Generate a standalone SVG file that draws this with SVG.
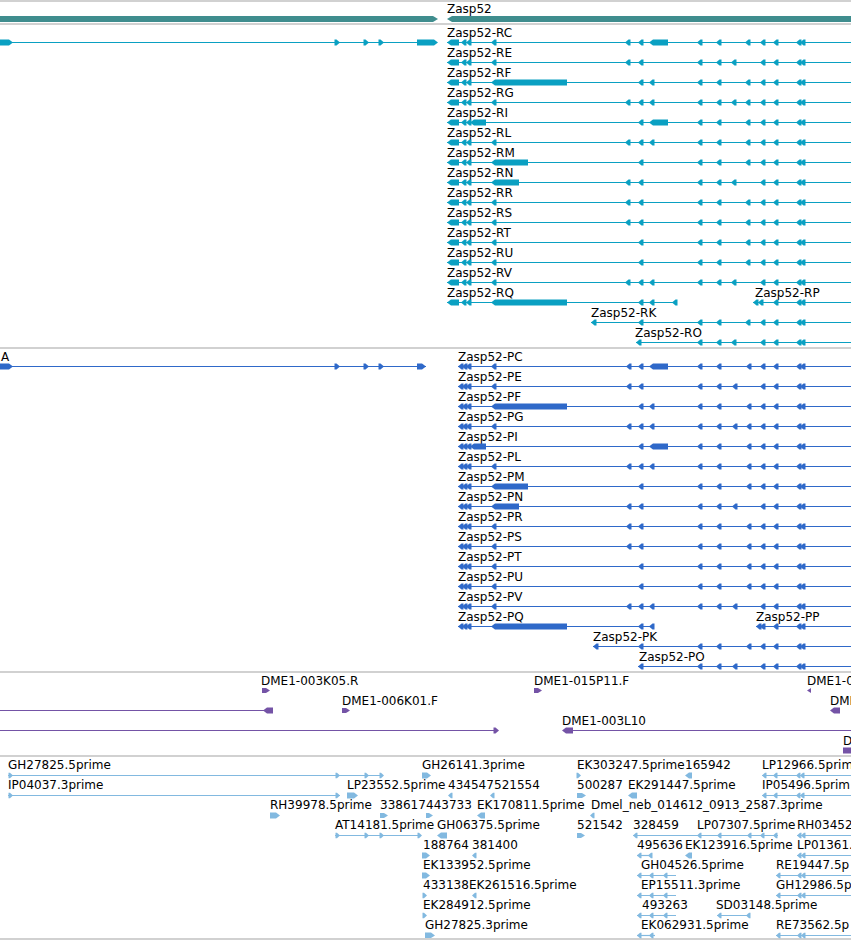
<svg xmlns="http://www.w3.org/2000/svg" xmlns:xlink="http://www.w3.org/1999/xlink" width="851" height="940" viewBox="0 0 851 940">
<style>
.t{font-family:"DejaVu Sans","Liberation Sans",sans-serif;font-size:12px;fill:#000}
.sep{stroke:#c2c2c2;stroke-width:1.5}
.g0{fill:#3f8d8e}
.c1{fill:#0aa0c2}.c1 line{stroke:#0aa0c2;stroke-width:1}
.c2{fill:#2f69c9}.c2 line{stroke:#2f69c9;stroke-width:1}
.c3{fill:#7453a6}.c3 line{stroke:#7453a6;stroke-width:1.2}
.c4{fill:#82b9e0}.c4 line{stroke:#82b9e0;stroke-width:1.2}
</style>
<defs>
<polygon id="a" points="0,0 3.5,-3 5.5,-3 5.5,3 3.5,3"/>
<polygon id="r" points="0,0 -3.5,-3 -5.5,-3 -5.5,3 -3.5,3"/>
<polygon id="sa" points="0,0 3,-2.7 4.5,-2.7 4.5,2.7 3,2.7"/>
<polygon id="sr" points="0,0 -3,-2.7 -4.5,-2.7 -4.5,2.7 -3,2.7"/>
</defs>
<g id="separators">
<line class="sep" x1="0" y1="1" x2="851" y2="1"/>
<line class="sep" x1="0" y1="24" x2="851" y2="24"/>
<line class="sep" x1="0" y1="348" x2="851" y2="348"/>
<line class="sep" x1="0" y1="672" x2="851" y2="672"/>
<line class="sep" x1="0" y1="756" x2="851" y2="756"/>
<line class="sep" x1="0" y1="939" x2="851" y2="939"/>
</g>
<g id="connectors"></g>
<g id="gene-left" class="g0"><polygon points="0,16 433,16 438,19 433,22 0,22"/></g>
<g id="gene-Zasp52" class="g0"><text class="t" x="447" y="13">Zasp52</text><polygon points="447,19 452,16 851,16 851,22 452,22"/></g>

<g id="tx-left" class="c1">
<line x1="0" y1="42.5" x2="437" y2="42.5"/>
<polygon points="0,39.5 9,39.5 13,42.5 9,45.5 0,45.5"/>
<use href="#r" x="340" y="42.5"/><use href="#r" x="369" y="42.5"/><use href="#r" x="384" y="42.5"/>
<polygon points="417,39.5 434,39.5 438,42.5 434,45.5 417,45.5"/>
</g>

<g id="Zasp52-RC" class="c1"><text class="t" x="447" y="37">Zasp52-RC</text>
<line x1="447" y1="42.5" x2="851" y2="42.5"/>
<polygon points="447,42.5 451,39.5 459,39.5 459,45.5 451,45.5"/>
<use href="#a" x="461" y="42.5"/><use href="#a" x="466" y="42.5"/><use href="#a" x="491" y="42.5"/><use href="#a" x="625" y="42.5"/><use href="#a" x="638" y="42.5"/>
<polygon points="649,42.5 653,39.5 668,39.5 668,45.5 653,45.5"/>
<use href="#a" x="697" y="42.5"/><use href="#a" x="716" y="42.5"/><use href="#a" x="745" y="42.5"/><use href="#a" x="760" y="42.5"/><use href="#a" x="773" y="42.5"/><use href="#a" x="796" y="42.5"/><use href="#a" x="800" y="42.5"/>
</g>
<g id="Zasp52-RE" class="c1"><text class="t" x="447" y="57">Zasp52-RE</text>
<line x1="447" y1="62.5" x2="851" y2="62.5"/>
<polygon points="447,62.5 451,59.5 459,59.5 459,65.5 451,65.5"/>
<use href="#a" x="461" y="62.5"/><use href="#a" x="466" y="62.5"/><use href="#a" x="491" y="62.5"/><use href="#a" x="625" y="62.5"/><use href="#a" x="638" y="62.5"/>
<use href="#a" x="697" y="62.5"/><use href="#a" x="716" y="62.5"/><use href="#a" x="731" y="62.5"/><use href="#a" x="760" y="62.5"/><use href="#a" x="773" y="62.5"/><use href="#a" x="796" y="62.5"/><use href="#a" x="800" y="62.5"/>
</g>
<g id="Zasp52-RF" class="c1"><text class="t" x="447" y="77">Zasp52-RF</text>
<line x1="447" y1="82.5" x2="851" y2="82.5"/>
<polygon points="447,82.5 451,79.5 459,79.5 459,85.5 451,85.5"/>
<use href="#a" x="461" y="82.5"/><use href="#a" x="466" y="82.5"/>
<polygon points="491,82.5 495,79.5 567,79.5 567,85.5 495,85.5"/>
<use href="#a" x="638" y="82.5"/><use href="#a" x="649" y="82.5"/>
<use href="#a" x="697" y="82.5"/><use href="#a" x="716" y="82.5"/><use href="#a" x="745" y="82.5"/><use href="#a" x="760" y="82.5"/><use href="#a" x="773" y="82.5"/><use href="#a" x="796" y="82.5"/><use href="#a" x="800" y="82.5"/>
</g>
<g id="Zasp52-RG" class="c1"><text class="t" x="447" y="97">Zasp52-RG</text>
<line x1="447" y1="102.5" x2="851" y2="102.5"/>
<polygon points="447,102.5 451,99.5 459,99.5 459,105.5 451,105.5"/>
<use href="#a" x="461" y="102.5"/><use href="#a" x="466" y="102.5"/><use href="#a" x="491" y="102.5"/><use href="#a" x="625" y="102.5"/><use href="#a" x="638" y="102.5"/><use href="#a" x="649" y="102.5"/>
<use href="#a" x="697" y="102.5"/><use href="#a" x="716" y="102.5"/><use href="#a" x="731" y="102.5"/><use href="#a" x="745" y="102.5"/><use href="#a" x="760" y="102.5"/><use href="#a" x="773" y="102.5"/><use href="#a" x="796" y="102.5"/><use href="#a" x="800" y="102.5"/>
</g>
<g id="Zasp52-RI" class="c1"><text class="t" x="447" y="117">Zasp52-RI</text>
<line x1="447" y1="122.5" x2="851" y2="122.5"/>
<polygon points="447,122.5 451,119.5 459,119.5 459,125.5 451,125.5"/>
<use href="#a" x="461" y="122.5"/><use href="#a" x="466" y="122.5"/>
<polygon points="470,122.5 474,119.5 486,119.5 486,125.5 474,125.5"/>
<use href="#a" x="638" y="122.5"/>
<polygon points="649,122.5 653,119.5 668,119.5 668,125.5 653,125.5"/>
<use href="#a" x="697" y="122.5"/><use href="#a" x="716" y="122.5"/><use href="#a" x="745" y="122.5"/><use href="#a" x="760" y="122.5"/><use href="#a" x="773" y="122.5"/><use href="#a" x="796" y="122.5"/><use href="#a" x="800" y="122.5"/>
</g>
<g id="Zasp52-RL" class="c1"><text class="t" x="447" y="137">Zasp52-RL</text>
<line x1="447" y1="142.5" x2="851" y2="142.5"/>
<polygon points="447,142.5 451,139.5 459,139.5 459,145.5 451,145.5"/>
<use href="#a" x="461" y="142.5"/><use href="#a" x="466" y="142.5"/><use href="#a" x="491" y="142.5"/><use href="#a" x="625" y="142.5"/><use href="#a" x="638" y="142.5"/><use href="#a" x="649" y="142.5"/>
<use href="#a" x="697" y="142.5"/><use href="#a" x="716" y="142.5"/><use href="#a" x="745" y="142.5"/><use href="#a" x="760" y="142.5"/><use href="#a" x="773" y="142.5"/><use href="#a" x="796" y="142.5"/><use href="#a" x="800" y="142.5"/>
</g>
<g id="Zasp52-RM" class="c1"><text class="t" x="447" y="157">Zasp52-RM</text>
<line x1="447" y1="162.5" x2="851" y2="162.5"/>
<polygon points="447,162.5 451,159.5 459,159.5 459,165.5 451,165.5"/>
<use href="#a" x="461" y="162.5"/><use href="#a" x="466" y="162.5"/>
<polygon points="491,162.5 495,159.5 528,159.5 528,165.5 495,165.5"/>
<use href="#a" x="638" y="162.5"/>
<use href="#a" x="697" y="162.5"/><use href="#a" x="716" y="162.5"/><use href="#a" x="745" y="162.5"/><use href="#a" x="760" y="162.5"/><use href="#a" x="773" y="162.5"/><use href="#a" x="796" y="162.5"/><use href="#a" x="800" y="162.5"/>
</g>
<g id="Zasp52-RN" class="c1"><text class="t" x="447" y="177">Zasp52-RN</text>
<line x1="447" y1="182.5" x2="851" y2="182.5"/>
<polygon points="447,182.5 451,179.5 459,179.5 459,185.5 451,185.5"/>
<use href="#a" x="461" y="182.5"/><use href="#a" x="466" y="182.5"/>
<polygon points="491,182.5 495,179.5 519,179.5 519,185.5 495,185.5"/>
<use href="#a" x="625" y="182.5"/><use href="#a" x="638" y="182.5"/>
<use href="#a" x="697" y="182.5"/><use href="#a" x="716" y="182.5"/><use href="#a" x="731" y="182.5"/><use href="#a" x="760" y="182.5"/><use href="#a" x="773" y="182.5"/><use href="#a" x="796" y="182.5"/><use href="#a" x="800" y="182.5"/>
</g>
<g id="Zasp52-RR" class="c1"><text class="t" x="447" y="197">Zasp52-RR</text>
<line x1="447" y1="202.5" x2="851" y2="202.5"/>
<polygon points="447,202.5 451,199.5 459,199.5 459,205.5 451,205.5"/>
<use href="#a" x="461" y="202.5"/><use href="#a" x="466" y="202.5"/><use href="#a" x="491" y="202.5"/><use href="#a" x="625" y="202.5"/><use href="#a" x="638" y="202.5"/>
<use href="#a" x="697" y="202.5"/><use href="#a" x="716" y="202.5"/><use href="#a" x="745" y="202.5"/><use href="#a" x="760" y="202.5"/><use href="#a" x="773" y="202.5"/><use href="#a" x="796" y="202.5"/><use href="#a" x="800" y="202.5"/>
</g>
<g id="Zasp52-RS" class="c1"><text class="t" x="447" y="217">Zasp52-RS</text>
<line x1="447" y1="222.5" x2="851" y2="222.5"/>
<polygon points="447,222.5 451,219.5 459,219.5 459,225.5 451,225.5"/>
<use href="#a" x="461" y="222.5"/><use href="#a" x="466" y="222.5"/><use href="#a" x="491" y="222.5"/><use href="#a" x="625" y="222.5"/><use href="#a" x="638" y="222.5"/>
<use href="#a" x="697" y="222.5"/><use href="#a" x="716" y="222.5"/><use href="#a" x="745" y="222.5"/><use href="#a" x="760" y="222.5"/><use href="#a" x="773" y="222.5"/><use href="#a" x="796" y="222.5"/><use href="#a" x="800" y="222.5"/>
</g>
<g id="Zasp52-RT" class="c1"><text class="t" x="447" y="237">Zasp52-RT</text>
<line x1="447" y1="242.5" x2="851" y2="242.5"/>
<polygon points="447,242.5 451,239.5 459,239.5 459,245.5 451,245.5"/>
<use href="#a" x="461" y="242.5"/><use href="#a" x="466" y="242.5"/><use href="#a" x="491" y="242.5"/><use href="#a" x="638" y="242.5"/>
<use href="#a" x="697" y="242.5"/><use href="#a" x="716" y="242.5"/><use href="#a" x="745" y="242.5"/><use href="#a" x="760" y="242.5"/><use href="#a" x="773" y="242.5"/><use href="#a" x="796" y="242.5"/><use href="#a" x="800" y="242.5"/>
</g>
<g id="Zasp52-RU" class="c1"><text class="t" x="447" y="257">Zasp52-RU</text>
<line x1="447" y1="262.5" x2="851" y2="262.5"/>
<polygon points="447,262.5 451,259.5 459,259.5 459,265.5 451,265.5"/>
<use href="#a" x="461" y="262.5"/><use href="#a" x="466" y="262.5"/><use href="#a" x="491" y="262.5"/><use href="#a" x="638" y="262.5"/>
<use href="#a" x="697" y="262.5"/><use href="#a" x="716" y="262.5"/><use href="#a" x="745" y="262.5"/><use href="#a" x="760" y="262.5"/><use href="#a" x="773" y="262.5"/><use href="#a" x="796" y="262.5"/><use href="#a" x="800" y="262.5"/>
</g>
<g id="Zasp52-RV" class="c1"><text class="t" x="447" y="277">Zasp52-RV</text>
<line x1="447" y1="282.5" x2="851" y2="282.5"/>
<polygon points="447,282.5 451,279.5 459,279.5 459,285.5 451,285.5"/>
<use href="#a" x="461" y="282.5"/><use href="#a" x="466" y="282.5"/><use href="#a" x="491" y="282.5"/><use href="#a" x="625" y="282.5"/><use href="#a" x="638" y="282.5"/><use href="#a" x="649" y="282.5"/>
<use href="#a" x="697" y="282.5"/><use href="#a" x="716" y="282.5"/><use href="#a" x="731" y="282.5"/><use href="#a" x="760" y="282.5"/><use href="#a" x="773" y="282.5"/><use href="#a" x="796" y="282.5"/><use href="#a" x="800" y="282.5"/>
</g>
<g id="Zasp52-RQ" class="c1"><text class="t" x="447" y="297">Zasp52-RQ</text>
<line x1="447" y1="302.5" x2="677" y2="302.5"/>
<polygon points="447,302.5 451,299.5 459,299.5 459,305.5 451,305.5"/>
<use href="#a" x="461" y="302.5"/><use href="#a" x="466" y="302.5"/>
<polygon points="491,302.5 495,299.5 567,299.5 567,305.5 495,305.5"/>
<use href="#a" x="638" y="302.5"/><use href="#a" x="649" y="302.5"/><use href="#a" x="672" y="302.5"/>
</g>
<g id="Zasp52-RP" class="c1"><text class="t" x="755" y="297">Zasp52-RP</text>
<line x1="753" y1="302.5" x2="851" y2="302.5"/>
<use href="#a" x="753" y="302.5"/><use href="#a" x="758" y="302.5"/><use href="#a" x="773" y="302.5"/><use href="#a" x="796" y="302.5"/><use href="#a" x="800" y="302.5"/>
</g>
<g id="Zasp52-RK" class="c1"><text class="t" x="591" y="317">Zasp52-RK</text>
<line x1="591" y1="322.5" x2="851" y2="322.5"/>
<use href="#a" x="591" y="322.5"/><use href="#a" x="638" y="322.5"/><use href="#a" x="697" y="322.5"/><use href="#a" x="716" y="322.5"/><use href="#a" x="745" y="322.5"/><use href="#a" x="760" y="322.5"/><use href="#a" x="773" y="322.5"/><use href="#a" x="796" y="322.5"/><use href="#a" x="800" y="322.5"/>
</g>
<g id="Zasp52-RO" class="c1"><text class="t" x="635" y="337">Zasp52-RO</text>
<line x1="636" y1="342.5" x2="851" y2="342.5"/>
<use href="#a" x="636" y="342.5"/><use href="#a" x="697" y="342.5"/><use href="#a" x="716" y="342.5"/><use href="#a" x="731" y="342.5"/><use href="#a" x="760" y="342.5"/><use href="#a" x="773" y="342.5"/><use href="#a" x="796" y="342.5"/><use href="#a" x="800" y="342.5"/>
</g>

<g id="pp-left" class="c2"><text class="t" x="1" y="361">A</text>
<line x1="0" y1="366.5" x2="426" y2="366.5"/>
<polygon points="0,363.5 9,363.5 13,366.5 9,369.5 0,369.5"/>
<use href="#r" x="340" y="366.5"/><use href="#r" x="369" y="366.5"/><use href="#r" x="384" y="366.5"/>
<polygon points="417,363.5 422,363.5 426,366.5 422,369.5 417,369.5"/>
</g>
<g id="Zasp52-PC" class="c2"><text class="t" x="458" y="361">Zasp52-PC</text>
<line x1="458" y1="366.5" x2="851" y2="366.5"/>
<use href="#a" x="458" y="366.5"/><use href="#a" x="462" y="366.5"/><use href="#a" x="466" y="366.5"/><use href="#a" x="491" y="366.5"/><use href="#a" x="626" y="366.5"/><use href="#a" x="638" y="366.5"/>
<polygon points="649,366.5 653,363.5 668,363.5 668,369.5 653,369.5"/>
<use href="#a" x="697" y="366.5"/><use href="#a" x="716" y="366.5"/><use href="#a" x="746" y="366.5"/><use href="#a" x="760" y="366.5"/><use href="#a" x="773" y="366.5"/><use href="#a" x="796" y="366.5"/><use href="#a" x="800" y="366.5"/>
</g>
<g id="Zasp52-PE" class="c2"><text class="t" x="458" y="381">Zasp52-PE</text>
<line x1="458" y1="386.5" x2="851" y2="386.5"/>
<use href="#a" x="458" y="386.5"/><use href="#a" x="462" y="386.5"/><use href="#a" x="466" y="386.5"/><use href="#a" x="491" y="386.5"/><use href="#a" x="626" y="386.5"/><use href="#a" x="638" y="386.5"/>
<use href="#a" x="697" y="386.5"/><use href="#a" x="716" y="386.5"/><use href="#a" x="732" y="386.5"/><use href="#a" x="760" y="386.5"/><use href="#a" x="773" y="386.5"/><use href="#a" x="796" y="386.5"/><use href="#a" x="800" y="386.5"/>
</g>
<g id="Zasp52-PF" class="c2"><text class="t" x="458" y="401">Zasp52-PF</text>
<line x1="458" y1="406.5" x2="851" y2="406.5"/>
<use href="#a" x="458" y="406.5"/><use href="#a" x="462" y="406.5"/><use href="#a" x="466" y="406.5"/>
<polygon points="491,406.5 495,403.5 567,403.5 567,409.5 495,409.5"/>
<use href="#a" x="638" y="406.5"/><use href="#a" x="649" y="406.5"/>
<use href="#a" x="697" y="406.5"/><use href="#a" x="716" y="406.5"/><use href="#a" x="746" y="406.5"/><use href="#a" x="760" y="406.5"/><use href="#a" x="773" y="406.5"/><use href="#a" x="796" y="406.5"/><use href="#a" x="800" y="406.5"/>
</g>
<g id="Zasp52-PG" class="c2"><text class="t" x="458" y="421">Zasp52-PG</text>
<line x1="458" y1="426.5" x2="851" y2="426.5"/>
<use href="#a" x="458" y="426.5"/><use href="#a" x="462" y="426.5"/><use href="#a" x="466" y="426.5"/><use href="#a" x="491" y="426.5"/><use href="#a" x="626" y="426.5"/><use href="#a" x="638" y="426.5"/><use href="#a" x="649" y="426.5"/>
<use href="#a" x="697" y="426.5"/><use href="#a" x="716" y="426.5"/><use href="#a" x="732" y="426.5"/><use href="#a" x="746" y="426.5"/><use href="#a" x="760" y="426.5"/><use href="#a" x="773" y="426.5"/><use href="#a" x="796" y="426.5"/><use href="#a" x="800" y="426.5"/>
</g>
<g id="Zasp52-PI" class="c2"><text class="t" x="458" y="441">Zasp52-PI</text>
<line x1="458" y1="446.5" x2="851" y2="446.5"/>
<use href="#a" x="458" y="446.5"/><use href="#a" x="462" y="446.5"/><use href="#a" x="466" y="446.5"/>
<polygon points="470,446.5 474,443.5 486,443.5 486,449.5 474,449.5"/>
<use href="#a" x="638" y="446.5"/>
<polygon points="649,446.5 653,443.5 668,443.5 668,449.5 653,449.5"/>
<use href="#a" x="697" y="446.5"/><use href="#a" x="716" y="446.5"/><use href="#a" x="746" y="446.5"/><use href="#a" x="760" y="446.5"/><use href="#a" x="773" y="446.5"/><use href="#a" x="796" y="446.5"/><use href="#a" x="800" y="446.5"/>
</g>
<g id="Zasp52-PL" class="c2"><text class="t" x="458" y="461">Zasp52-PL</text>
<line x1="458" y1="466.5" x2="851" y2="466.5"/>
<use href="#a" x="458" y="466.5"/><use href="#a" x="462" y="466.5"/><use href="#a" x="466" y="466.5"/><use href="#a" x="491" y="466.5"/><use href="#a" x="626" y="466.5"/><use href="#a" x="638" y="466.5"/><use href="#a" x="649" y="466.5"/>
<use href="#a" x="697" y="466.5"/><use href="#a" x="716" y="466.5"/><use href="#a" x="746" y="466.5"/><use href="#a" x="760" y="466.5"/><use href="#a" x="773" y="466.5"/><use href="#a" x="796" y="466.5"/><use href="#a" x="800" y="466.5"/>
</g>
<g id="Zasp52-PM" class="c2"><text class="t" x="458" y="481">Zasp52-PM</text>
<line x1="458" y1="486.5" x2="851" y2="486.5"/>
<use href="#a" x="458" y="486.5"/><use href="#a" x="462" y="486.5"/><use href="#a" x="466" y="486.5"/>
<polygon points="491,486.5 495,483.5 528,483.5 528,489.5 495,489.5"/>
<use href="#a" x="638" y="486.5"/>
<use href="#a" x="697" y="486.5"/><use href="#a" x="716" y="486.5"/><use href="#a" x="746" y="486.5"/><use href="#a" x="760" y="486.5"/><use href="#a" x="773" y="486.5"/><use href="#a" x="796" y="486.5"/><use href="#a" x="800" y="486.5"/>
</g>
<g id="Zasp52-PN" class="c2"><text class="t" x="458" y="501">Zasp52-PN</text>
<line x1="458" y1="506.5" x2="851" y2="506.5"/>
<use href="#a" x="458" y="506.5"/><use href="#a" x="462" y="506.5"/><use href="#a" x="466" y="506.5"/>
<polygon points="491,506.5 495,503.5 519,503.5 519,509.5 495,509.5"/>
<use href="#a" x="626" y="506.5"/><use href="#a" x="638" y="506.5"/>
<use href="#a" x="697" y="506.5"/><use href="#a" x="716" y="506.5"/><use href="#a" x="732" y="506.5"/><use href="#a" x="760" y="506.5"/><use href="#a" x="773" y="506.5"/><use href="#a" x="796" y="506.5"/><use href="#a" x="800" y="506.5"/>
</g>
<g id="Zasp52-PR" class="c2"><text class="t" x="458" y="521">Zasp52-PR</text>
<line x1="458" y1="526.5" x2="851" y2="526.5"/>
<use href="#a" x="458" y="526.5"/><use href="#a" x="462" y="526.5"/><use href="#a" x="466" y="526.5"/><use href="#a" x="491" y="526.5"/><use href="#a" x="626" y="526.5"/><use href="#a" x="638" y="526.5"/>
<use href="#a" x="697" y="526.5"/><use href="#a" x="716" y="526.5"/><use href="#a" x="746" y="526.5"/><use href="#a" x="760" y="526.5"/><use href="#a" x="773" y="526.5"/><use href="#a" x="796" y="526.5"/><use href="#a" x="800" y="526.5"/>
</g>
<g id="Zasp52-PS" class="c2"><text class="t" x="458" y="541">Zasp52-PS</text>
<line x1="458" y1="546.5" x2="851" y2="546.5"/>
<use href="#a" x="458" y="546.5"/><use href="#a" x="462" y="546.5"/><use href="#a" x="466" y="546.5"/><use href="#a" x="491" y="546.5"/><use href="#a" x="626" y="546.5"/><use href="#a" x="638" y="546.5"/>
<use href="#a" x="697" y="546.5"/><use href="#a" x="716" y="546.5"/><use href="#a" x="746" y="546.5"/><use href="#a" x="760" y="546.5"/><use href="#a" x="773" y="546.5"/><use href="#a" x="796" y="546.5"/><use href="#a" x="800" y="546.5"/>
</g>
<g id="Zasp52-PT" class="c2"><text class="t" x="458" y="561">Zasp52-PT</text>
<line x1="458" y1="566.5" x2="851" y2="566.5"/>
<use href="#a" x="458" y="566.5"/><use href="#a" x="462" y="566.5"/><use href="#a" x="466" y="566.5"/><use href="#a" x="491" y="566.5"/><use href="#a" x="638" y="566.5"/>
<use href="#a" x="697" y="566.5"/><use href="#a" x="716" y="566.5"/><use href="#a" x="746" y="566.5"/><use href="#a" x="760" y="566.5"/><use href="#a" x="773" y="566.5"/><use href="#a" x="796" y="566.5"/><use href="#a" x="800" y="566.5"/>
</g>
<g id="Zasp52-PU" class="c2"><text class="t" x="458" y="581">Zasp52-PU</text>
<line x1="458" y1="586.5" x2="851" y2="586.5"/>
<use href="#a" x="458" y="586.5"/><use href="#a" x="462" y="586.5"/><use href="#a" x="466" y="586.5"/><use href="#a" x="491" y="586.5"/><use href="#a" x="638" y="586.5"/>
<use href="#a" x="697" y="586.5"/><use href="#a" x="716" y="586.5"/><use href="#a" x="746" y="586.5"/><use href="#a" x="760" y="586.5"/><use href="#a" x="773" y="586.5"/><use href="#a" x="796" y="586.5"/><use href="#a" x="800" y="586.5"/>
</g>
<g id="Zasp52-PV" class="c2"><text class="t" x="458" y="601">Zasp52-PV</text>
<line x1="458" y1="606.5" x2="851" y2="606.5"/>
<use href="#a" x="458" y="606.5"/><use href="#a" x="462" y="606.5"/><use href="#a" x="466" y="606.5"/><use href="#a" x="491" y="606.5"/><use href="#a" x="626" y="606.5"/><use href="#a" x="638" y="606.5"/><use href="#a" x="649" y="606.5"/>
<use href="#a" x="697" y="606.5"/><use href="#a" x="716" y="606.5"/><use href="#a" x="732" y="606.5"/><use href="#a" x="760" y="606.5"/><use href="#a" x="773" y="606.5"/><use href="#a" x="796" y="606.5"/><use href="#a" x="800" y="606.5"/>
</g>
<g id="Zasp52-PQ" class="c2"><text class="t" x="458" y="621">Zasp52-PQ</text>
<line x1="458" y1="626.5" x2="653" y2="626.5"/>
<use href="#a" x="458" y="626.5"/><use href="#a" x="462" y="626.5"/><use href="#a" x="466" y="626.5"/>
<polygon points="491,626.5 495,623.5 567,623.5 567,629.5 495,629.5"/>
<use href="#a" x="638" y="626.5"/><use href="#a" x="649" y="626.5"/>
</g>
<g id="Zasp52-PP" class="c2"><text class="t" x="756" y="621">Zasp52-PP</text>
<line x1="756" y1="626.5" x2="851" y2="626.5"/>
<use href="#a" x="756" y="626.5"/><use href="#a" x="760" y="626.5"/><use href="#a" x="773" y="626.5"/><use href="#a" x="796" y="626.5"/><use href="#a" x="800" y="626.5"/>
</g>
<g id="Zasp52-PK" class="c2"><text class="t" x="593" y="641">Zasp52-PK</text>
<line x1="593" y1="646.5" x2="851" y2="646.5"/>
<use href="#a" x="593" y="646.5"/><use href="#a" x="638" y="646.5"/><use href="#a" x="697" y="646.5"/><use href="#a" x="716" y="646.5"/><use href="#a" x="746" y="646.5"/><use href="#a" x="760" y="646.5"/><use href="#a" x="773" y="646.5"/><use href="#a" x="796" y="646.5"/><use href="#a" x="800" y="646.5"/>
</g>
<g id="Zasp52-PO" class="c2"><text class="t" x="639" y="661">Zasp52-PO</text>
<line x1="638" y1="666.5" x2="851" y2="666.5"/>
<use href="#a" x="638" y="666.5"/><use href="#a" x="697" y="666.5"/><use href="#a" x="716" y="666.5"/><use href="#a" x="732" y="666.5"/><use href="#a" x="760" y="666.5"/><use href="#a" x="773" y="666.5"/><use href="#a" x="796" y="666.5"/><use href="#a" x="800" y="666.5"/>
</g>

<g id="DME1-003K05.R" class="c3"><text class="t" x="261" y="685">DME1-003K05.R</text><polygon points="262,688 266,688 270,690.5 266,693 262,693"/></g>
<g id="DME1-015P11.F" class="c3"><text class="t" x="534" y="685">DME1-015P11.F</text><polygon points="534,688 538,688 542,690.5 538,693 534,693"/></g>
<g id="DME1-0" class="c3"><text class="t" x="807" y="685">DME1-0</text><polygon points="807,690.5 811,688 811,693"/></g>
<g id="left-clone-1" class="c3"><line x1="0" y1="710.5" x2="264" y2="710.5"/><polygon points="263,710.5 267,707.5 273,707.5 273,713.5 267,713.5"/></g>
<g id="DME1-006K01.F" class="c3"><text class="t" x="342" y="705">DME1-006K01.F</text><polygon points="342,708 346,708 350,710.5 346,713 342,713"/></g>
<g id="DME" class="c3"><text class="t" x="830" y="705">DME</text><polygon points="830,710.5 834,707.5 840,707.5 840,713.5 834,713.5"/></g>
<g id="left-clone-2" class="c3"><line x1="0" y1="730.5" x2="496" y2="730.5"/><use href="#r" x="499" y="730.5"/></g>
<g id="DME1-003L10" class="c3"><text class="t" x="562" y="725">DME1-003L10</text><line x1="566" y1="730.5" x2="851" y2="730.5"/><polygon points="562,730.5 566,727.5 573,727.5 573,733.5 566,733.5"/></g>
<g id="D" class="c3"><text class="t" x="843" y="745">D</text><rect x="843" y="747.5" width="8" height="6"/></g>

<g id="GH27825.5prime" class="c4"><text class="t" x="8" y="769">GH27825.5prime</text><line x1="8" y1="775.5" x2="383" y2="775.5"/><use href="#sr" x="13" y="775.5"/><use href="#sr" x="340" y="775.5"/><use href="#sr" x="369" y="775.5"/><use href="#sr" x="384" y="775.5"/></g>
<g id="GH26141.3prime" class="c4"><text class="t" x="422" y="769">GH26141.3prime</text><polygon points="422,772.5 427,772.5 431,775.5 427,778.5 422,778.5"/></g>
<g id="EK303247.5prime" class="c4"><text class="t" x="577" y="769">EK303247.5prime</text><use href="#sr" x="581" y="775.5"/></g>
<g id="165942" class="c4"><text class="t" x="685" y="769">165942</text><polygon points="685,775.5 689,772.5 692,772.5 692,778.5 689,778.5"/></g>
<g id="LP12966.5prime" class="c4"><text class="t" x="762" y="769">LP12966.5prim</text><line x1="762" y1="775.5" x2="851" y2="775.5"/><use href="#sa" x="762" y="775.5"/><use href="#sa" x="773" y="775.5"/><use href="#sa" x="796" y="775.5"/><use href="#sa" x="800" y="775.5"/></g>

<g id="IP04037.3prime" class="c4"><text class="t" x="8" y="789">IP04037.3prime</text><line x1="8" y1="795.5" x2="340" y2="795.5"/><use href="#sr" x="13" y="795.5"/><use href="#sr" x="340" y="795.5"/></g>
<g id="LP23552.5prime" class="c4"><text class="t" x="347" y="789">LP23552.5prime</text><polygon points="347,792.5 354,792.5 358,795.5 354,798.5 347,798.5"/></g>
<g id="434547" class="c4"><text class="t" x="448" y="789">434547</text><use href="#sa" x="448" y="795.5"/></g>
<g id="521554" class="c4"><text class="t" x="494" y="789">521554</text><use href="#sa" x="490" y="795.5"/></g>
<g id="500287" class="c4"><text class="t" x="577" y="789">500287</text><polygon points="577,793 582,793 586,795.5 582,798 577,798"/></g>
<g id="EK291447.5prime" class="c4"><text class="t" x="628" y="789">EK291447.5prime</text><polygon points="628,795.5 632,792.5 637,792.5 637,798.5 632,798.5"/></g>
<g id="IP05496.5prime" class="c4"><text class="t" x="762" y="789">IP05496.5prim</text><line x1="762" y1="795.5" x2="851" y2="795.5"/><use href="#sa" x="762" y="795.5"/><use href="#sa" x="773" y="795.5"/><use href="#sa" x="796" y="795.5"/><use href="#sa" x="800" y="795.5"/></g>

<g id="RH39978.5prime" class="c4"><text class="t" x="270" y="809">RH39978.5prime</text><polygon points="270,812.5 276,812.5 280,815.5 276,818.5 270,818.5"/></g>
<g id="338617" class="c4"><text class="t" x="380" y="809">338617</text><polygon points="380,813 384,813 388,815.5 384,818 380,818"/></g>
<g id="443733" class="c4"><text class="t" x="426" y="809">443733</text><polygon points="426,813 429,813 433,815.5 429,818 426,818"/></g>
<g id="EK170811.5prime" class="c4"><text class="t" x="477" y="809">EK170811.5prime</text><polygon points="477,815.5 481,812.5 485,812.5 485,818.5 481,818.5"/></g>
<g id="Dmel_neb_014612_0913_2587.3prime" class="c4"><text class="t" x="591" y="809">Dmel_neb_014612_0913_2587.3prime</text><use href="#sa" x="590" y="815.5"/></g>

<g id="AT14181.5prime" class="c4"><text class="t" x="335" y="829">AT14181.5prime</text><line x1="335" y1="835.5" x2="421" y2="835.5"/><use href="#sr" x="340" y="835.5"/><use href="#sr" x="369" y="835.5"/><use href="#sr" x="384" y="835.5"/><use href="#sr" x="422" y="835.5"/></g>
<g id="GH06375.5prime" class="c4"><text class="t" x="437" y="829">GH06375.5prime</text><polygon points="437,835.5 441,832.5 447,832.5 447,838.5 441,838.5"/></g>
<g id="521542" class="c4"><text class="t" x="577" y="829">521542</text><polygon points="577,833 581,833 585,835.5 581,838 577,838"/></g>
<g id="328459" class="c4"><text class="t" x="633" y="829">328459</text><line x1="633" y1="835.5" x2="697" y2="835.5"/><use href="#sa" x="633" y="835.5"/></g>
<g id="LP07307.5prime" class="c4"><text class="t" x="697" y="829">LP07307.5prime</text><line x1="697" y1="835.5" x2="778" y2="835.5"/><use href="#sa" x="697" y="835.5"/><use href="#sa" x="717" y="835.5"/><use href="#sa" x="747" y="835.5"/><use href="#sa" x="760" y="835.5"/><use href="#sa" x="773" y="835.5"/></g>
<g id="RH03452" class="c4"><text class="t" x="797" y="829">RH03452</text><line x1="797" y1="835.5" x2="851" y2="835.5"/><use href="#sa" x="797" y="835.5"/><use href="#sa" x="801" y="835.5"/></g>

<g id="188764" class="c4"><text class="t" x="423" y="849">188764</text><polygon points="422,852.5 426,852.5 430,855.5 426,858.5 422,858.5"/></g>
<g id="381400" class="c4"><text class="t" x="472" y="849">381400</text><use href="#sa" x="472" y="855.5"/></g>
<g id="495636" class="c4"><text class="t" x="637" y="849">495636</text><line x1="637" y1="855.5" x2="652" y2="855.5"/><use href="#sa" x="637" y="855.5"/><use href="#sa" x="648" y="855.5"/></g>
<g id="EK123916.5prime" class="c4"><text class="t" x="685" y="849">EK123916.5prime</text><polygon points="685,855.5 689,852.5 692,852.5 692,858.5 689,858.5"/></g>
<g id="LP01361" class="c4"><text class="t" x="797" y="849">LP01361.</text><line x1="797" y1="855.5" x2="851" y2="855.5"/><use href="#sa" x="797" y="855.5"/><use href="#sa" x="801" y="855.5"/></g>

<g id="EK133952.5prime" class="c4"><text class="t" x="423" y="869">EK133952.5prime</text><polygon points="422,872.5 426,872.5 430,875.5 426,878.5 422,878.5"/></g>
<g id="GH04526.5prime" class="c4"><text class="t" x="641" y="869">GH04526.5prime</text><line x1="637" y1="875.5" x2="676" y2="875.5"/><use href="#sa" x="637" y="875.5"/><use href="#sa" x="649" y="875.5"/><use href="#sa" x="663" y="875.5"/></g>
<g id="RE19447.5p" class="c4"><text class="t" x="776" y="869">RE19447.5p</text><line x1="776" y1="875.5" x2="851" y2="875.5"/><use href="#sa" x="776" y="875.5"/><use href="#sa" x="797" y="875.5"/><use href="#sa" x="801" y="875.5"/></g>

<g id="433138" class="c4"><text class="t" x="423" y="889">433138</text><use href="#sr" x="427" y="895.5"/></g>
<g id="EK261516.5prime" class="c4"><text class="t" x="469" y="889">EK261516.5prime</text><use href="#sa" x="472" y="895.5"/></g>
<g id="EP15511.3prime" class="c4"><text class="t" x="641" y="889">EP15511.3prime</text><line x1="637" y1="895.5" x2="676" y2="895.5"/><use href="#sa" x="637" y="895.5"/><use href="#sa" x="649" y="895.5"/><use href="#sa" x="663" y="895.5"/></g>
<g id="GH12986.5p" class="c4"><text class="t" x="776" y="889">GH12986.5p</text><line x1="776" y1="895.5" x2="851" y2="895.5"/><use href="#sa" x="776" y="895.5"/><use href="#sa" x="797" y="895.5"/><use href="#sa" x="801" y="895.5"/></g>

<g id="EK284912.5prime" class="c4"><text class="t" x="423" y="909">EK284912.5prime</text><use href="#sr" x="427" y="915.5"/></g>
<g id="493263" class="c4"><text class="t" x="642" y="909">493263</text><line x1="637" y1="915.5" x2="676" y2="915.5"/><use href="#sa" x="637" y="915.5"/><use href="#sa" x="649" y="915.5"/><use href="#sa" x="663" y="915.5"/></g>
<g id="SD03148.5prime" class="c4"><text class="t" x="716" y="909">SD03148.5prime</text><line x1="717" y1="915.5" x2="750" y2="915.5"/><use href="#sa" x="717" y="915.5"/><use href="#sa" x="746" y="915.5"/></g>

<g id="GH27825.3prime" class="c4"><text class="t" x="425" y="929">GH27825.3prime</text><polygon points="425,932.5 431,932.5 435,935.5 431,938 425,938"/></g>
<g id="EK062931.5prime" class="c4"><text class="t" x="641" y="929">EK062931.5prime</text><line x1="637" y1="935.5" x2="655" y2="935.5"/><use href="#sa" x="637" y="935.5"/><use href="#sa" x="649" y="935.5"/></g>
<g id="RE73562.5p" class="c4"><text class="t" x="776" y="929">RE73562.5p</text><line x1="776" y1="935.5" x2="851" y2="935.5"/><use href="#sa" x="776" y="935.5"/><use href="#sa" x="797" y="935.5"/><use href="#sa" x="801" y="935.5"/></g>
</svg>
